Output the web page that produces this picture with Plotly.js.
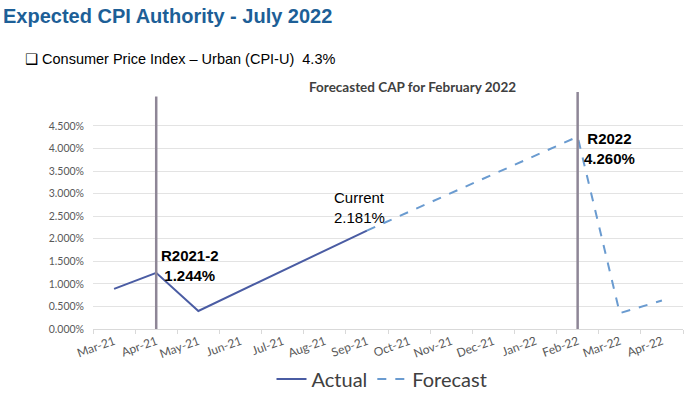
<!DOCTYPE html>
<html>
<head>
<meta charset="utf-8">
<script src="https://cdn.plot.ly/plotly-3.0.1.min.js"></script>
<style>
html,body{margin:0;padding:0;background:#fff;}
#chart{width:692px;height:395px;}
</style>
</head>
<body>
<div id="chart"></div>
<script>
// ---- data ----
const months = ["Mar-21","Apr-21","May-21","Jun-21","Jul-21","Aug-21","Sep-21","Oct-21","Nov-21","Dec-21","Jan-22","Feb-22","Mar-22","Apr-22"];
const actual   = [0.89, 1.244, 0.40, null, null, null, 2.181, null, null, null, null, null, null, null];
const forecast = [null, null, null, null, null, null, 2.181, null, null, null, null, 4.26, 0.35, 0.63];
const yTickVals = [0, 0.5, 1.0, 1.5, 2.0, 2.5, 3.0, 3.5, 4.0, 4.5];
const yTickText = ["0.000%","0.500%","1.000%","1.500%","2.000%","2.500%","3.000%","3.500%","4.000%","4.500%"];
const markerMonths = ["Apr-21", "Feb-22"];
const markerTops = [5.15, 5.25];
const labels = [
  {month:"Apr-21", value:1.244, text:"<b>R2021-2<br>1.244%</b>"},
  {month:"Sep-21", value:2.181, text:"Current<br>2.181%"},
  {month:"Feb-22", value:4.26,  text:"<b>R2022<br>4.260%</b>"}
];

const calib = "Lato, 'Open Sans', sans-serif";
const arial = "'Liberation Sans', Arial, sans-serif";

const traces = [
  {x: months, y: actual, name: "Actual", mode: "lines", connectgaps: true,
   line: {color: "#4a5ca3", width: 2}, hoverinfo: "skip"},
  {x: months, y: forecast, name: "Forecast", mode: "lines", connectgaps: true,
   line: {color: "#6a9bd0", width: 2, dash: "dash"}, hoverinfo: "skip"}
];

const shapes = markerMonths.map((m, i) => ({
  type: "line", xref: "x", yref: "y", x0: m, x1: m, y0: -0.05, y1: markerTops[i],
  line: {color: "#8e8696", width: 2.5}
}));

const labelStyles = [
  {xanchor: "left", yanchor: "middle", xshift: 3, yshift: 7, align: "center", size: 15},
  {xanchor: "left", yanchor: "bottom", xshift: -35, yshift: 3, align: "left", size: 15},
  {xanchor: "left", yanchor: "top", xshift: 4, yshift: 9, align: "center", size: 15}
];

const annotations = labels.map((l, i) => ({
  x: l.month, y: l.value, xref: "x", yref: "y", text: l.text, showarrow: false,
  xanchor: labelStyles[i].xanchor, yanchor: labelStyles[i].yanchor,
  xshift: labelStyles[i].xshift, yshift: labelStyles[i].yshift,
  align: labelStyles[i].align,
  font: {family: arial, size: labelStyles[i].size, color: "#000"}
}));

annotations.push(
  {xref: "paper", yref: "paper", x: -92/590, y: 1 + (92-16)/237, xanchor: "left", yanchor: "middle",
   text: "<b>Expected CPI Authority - July 2022</b>", showarrow: false,
   font: {family: arial, size: 20, color: "#1d5f97"}},
  {xref: "paper", yref: "paper", x: -70/590, y: 1 + (92-59)/237, xanchor: "left", yanchor: "middle",
   text: "<span style=\"font-family:'DejaVu Sans'\">\u2751</span> Consumer Price Index \u2013 Urban (CPI-U)  4.3%", showarrow: false,
   font: {family: arial, size: 14.5, color: "#000"}},
  {xref: "paper", yref: "paper", x: (412-93)/590, y: 1 + (92-87)/237, xanchor: "center", yanchor: "middle",
   text: "<b>Forecasted CAP for February 2022</b>", showarrow: false,
   font: {family: calib, size: 13.5, color: "#404040"}}
);

const layout = {
  width: 692, height: 395,
  margin: {l: 93, r: 9, t: 92, b: 66, autoexpand: false},
  paper_bgcolor: "#fff", plot_bgcolor: "#fff",
  showlegend: true,
  legend: {orientation: "h", x: (382 - 93) / 590, xanchor: "center", y: -(379 - 329) / 237, yanchor: "middle",
           font: {family: calib, size: 20, color: "#404040"}, itemwidth: 30, tracegroupgap: 0},
  xaxis: {type: "category", range: [-0.5, 13.5], tickangle: -20, automargin: false,
          tickfont: {family: calib, size: 12, color: "#595959"},
          showgrid: false, showline: true, linecolor: "#d9d9d9", linewidth: 1,
          ticks: "outside", tickson: "boundaries", ticklen: 4, tickcolor: "#d9d9d9",
          fixedrange: true, zeroline: false},
  yaxis: {range: [0, 5.25], tickvals: yTickVals, ticktext: yTickText, automargin: false,
          tickfont: {family: calib, size: 10.5, color: "#595959"},
          showgrid: true, gridcolor: "#e3e3e3", gridwidth: 1, zeroline: false,
          showline: false, ticks: "", ticklabelstandoff: 8, fixedrange: true},
  shapes: shapes,
  annotations: annotations
};

Plotly.newPlot("chart", traces, layout, {displayModeBar: false, staticPlot: true});
</script>
</body>
</html>
